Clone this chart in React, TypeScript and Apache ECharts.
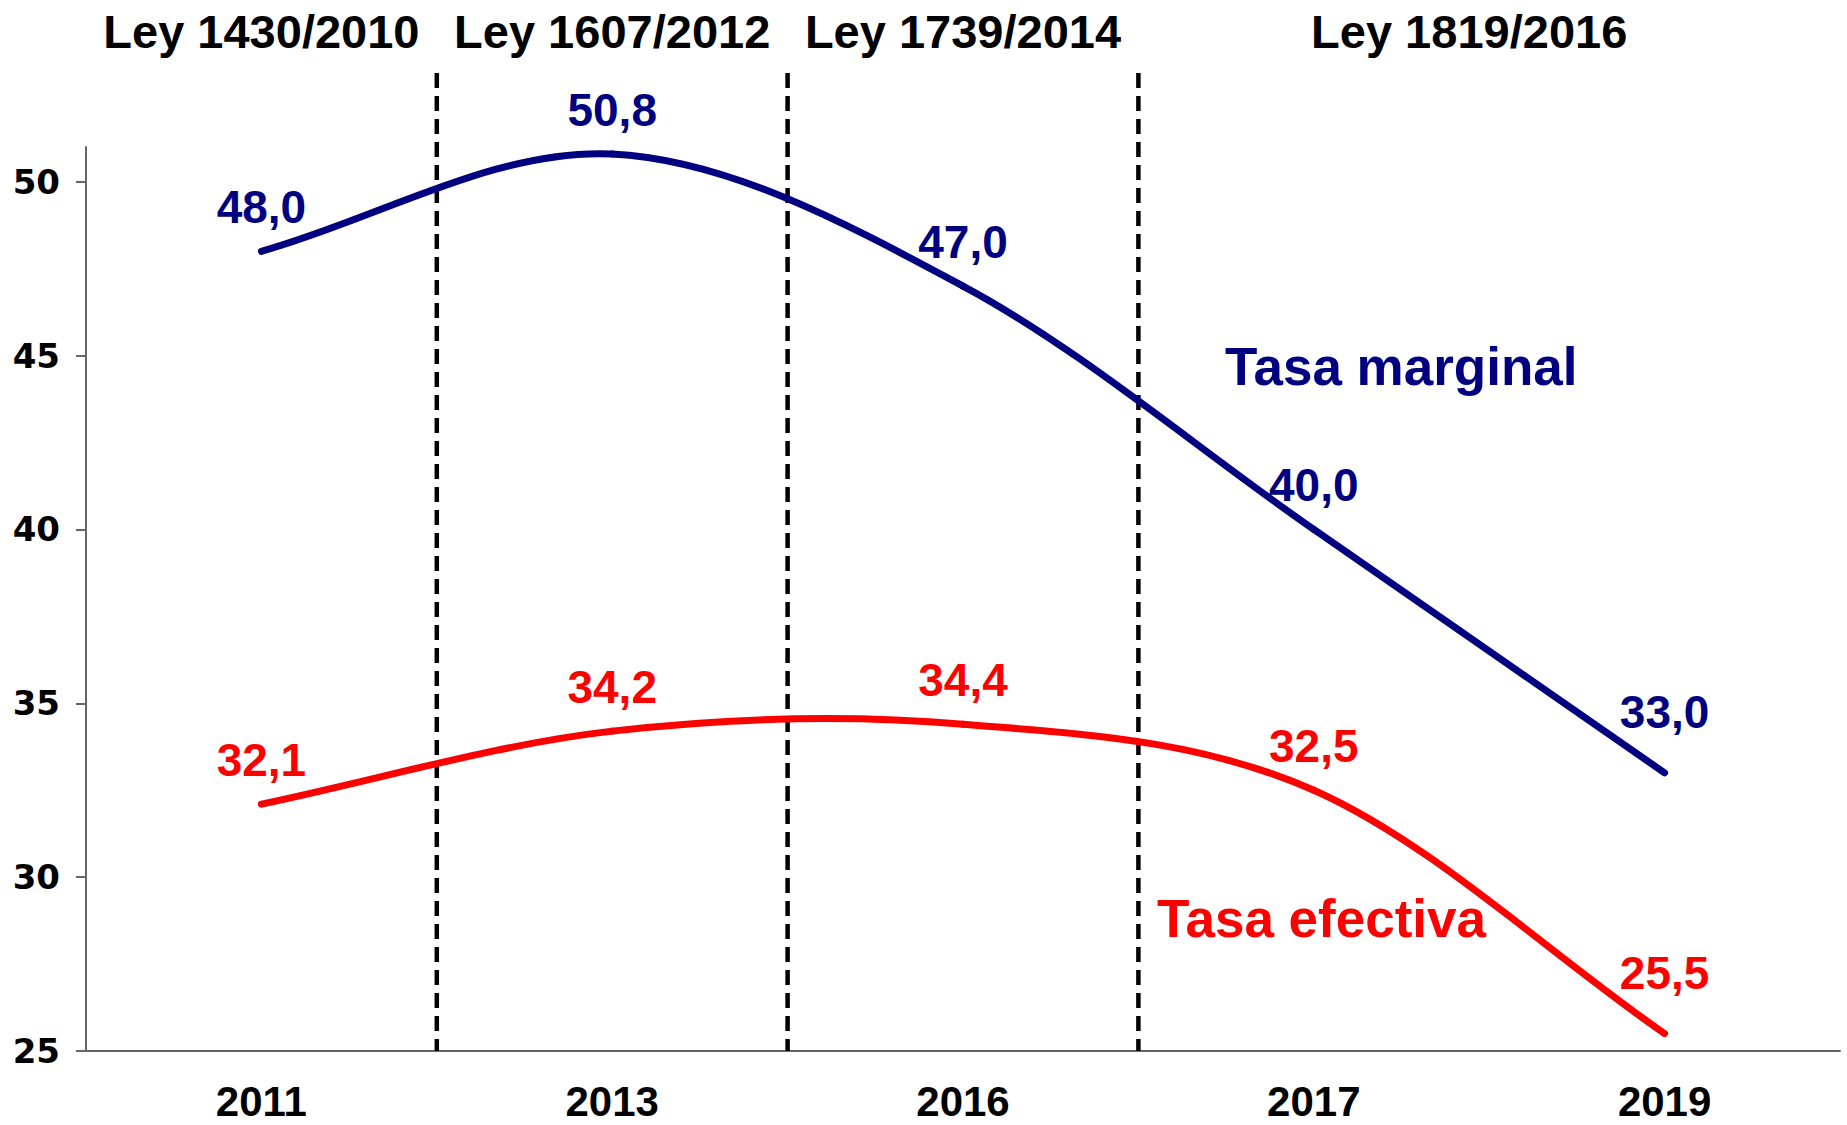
import React, { useEffect, useRef } from "react";
import * as echarts from "echarts";

const categories = ["2011", "2013", "2016", "2017", "2019"];
const tasaMarginal = [48.0, 50.8, 47.0, 40.0, 33.0];
const tasaEfectiva = [32.1, 34.2, 34.4, 32.5, 25.5];
const yTicks = [25, 30, 35, 40, 45, 50];
const leyNames = ["Ley 1430/2010", "Ley 1607/2012", "Ley 1739/2014", "Ley 1819/2016"];
const leySpans = [
  [0, 0],
  [1, 1],
  [2, 2],
  [3, 4],
];

const FONT = "'Liberation Sans', Arial, sans-serif";
const BLUE = "#000080";
const RED = "#ff0000";

const fmt = (v: number) => v.toFixed(1).replace(".", ",");

// segment data for a Catmull-Rom style smooth curve: [i, prev, cur, next, next2]
const segments = (arr: number[]) =>
  arr.slice(0, arr.length - 1).map((v, i) => {
    const prev = i > 0 ? arr[i - 1] : 2 * arr[i] - arr[i + 1];
    const nxt = arr[i + 1];
    const nxt2 = i + 2 < arr.length ? arr[i + 2] : 2 * arr[i + 1] - arr[i];
    return [i, prev, v, nxt, nxt2];
  });

const curveSeries = (arr: number[], color: string) => ({
  type: "custom",
  clip: false,
  silent: true,
  z: 5,
  data: segments(arr),
  renderItem: (params: any, api: any) => {
    const i = api.value(0);
    const p0 = api.coord([i - 1, api.value(1)]);
    const p1 = api.coord([i, api.value(2)]);
    const p2 = api.coord([i + 1, api.value(3)]);
    const p3 = api.coord([i + 2, api.value(4)]);
    return {
      type: "bezierCurve",
      shape: {
        x1: p1[0],
        y1: p1[1],
        x2: p2[0],
        y2: p2[1],
        cpx1: p1[0] + (p2[0] - p0[0]) / 6,
        cpy1: p1[1] + (p2[1] - p0[1]) / 6,
        cpx2: p2[0] - (p3[0] - p1[0]) / 6,
        cpy2: p2[1] - (p3[1] - p1[1]) / 6,
      },
      style: { stroke: color, lineWidth: 7, lineCap: "round", fill: null },
    };
  },
});

export default function App() {
  const ref = useRef<HTMLDivElement>(null);
  useEffect(() => {
    document.body.style.margin = "0";
    const chart = echarts.init(ref.current!, null, { renderer: "svg" });
    const labelled = (arr: number[]) =>
      arr.map((v, i) => ({
        value: v,
        label: { distance: i === arr.length - 1 ? 38 : 21 },
      }));
    const labelSeries = (name: string, arr: number[], color: string) => ({
      type: "line",
      name,
      data: labelled(arr),
      symbol: "circle",
      symbolSize: 0,
      lineStyle: { opacity: 0, width: 0 },
      itemStyle: { color },
      label: {
        show: true,
        position: "top",
        formatter: (p: any) => fmt(p.value),
        color,
        fontFamily: FONT,
        fontWeight: "bold",
        fontSize: 46,
      },
      z: 6,
    });
    const option: any = {
      animation: false,
      backgroundColor: "#ffffff",
      grid: { left: 86, right: 7, top: 147, bottom: 74, containLabel: false },
      xAxis: {
        type: "category",
        data: categories,
        boundaryGap: true,
        axisLine: { lineStyle: { color: "#666", width: 2 } },
        axisTick: { length: 13, lineStyle: { color: "#666", width: 2 } },
        axisLabel: {
          margin: 29,
          color: "#000",
          fontFamily: FONT,
          fontWeight: "bold",
          fontSize: 42,
          lineHeight: 42,
        },
        splitLine: { show: false },
      },
      yAxis: {
        type: "value",
        min: 25,
        max: 51,
        interval: 5,
        axisLine: { show: true, lineStyle: { color: "#666", width: 2 } },
        axisTick: {
          show: true,
          length: 10,
          customValues: yTicks,
          lineStyle: { color: "#666", width: 2 },
        },
        axisLabel: {
          margin: 26,
          customValues: yTicks,
          color: "#000",
          fontFamily: "'DejaVu Sans', sans-serif",
          fontWeight: "bold",
          fontSize: 34,
        },
        splitLine: { show: false },
      },
      series: [
        labelSeries("Tasa marginal", tasaMarginal, BLUE),
        labelSeries("Tasa efectiva", tasaEfectiva, RED),
        curveSeries(tasaMarginal, BLUE),
        curveSeries(tasaEfectiva, RED),
        {
          type: "custom",
          clip: false,
          silent: true,
          z: 3,
          data: leySpans.slice(0, leySpans.length - 1).map((s) => [s[1]]),
          renderItem: (params: any, api: any) => {
            const i = api.value(0);
            const p = api.coord([i, 25]);
            const bw = api.size([1, 0])[0];
            const x = p[0] + bw / 2;
            const top = api.coord([i, 51])[1] - 74;
            return {
              type: "line",
              shape: { x1: x, y1: top, x2: x, y2: p[1] },
              style: { stroke: "#000", lineWidth: 4.5, lineDash: [15, 8] },
            };
          },
        },
        {
          type: "custom",
          clip: false,
          silent: true,
          z: 4,
          data: leySpans.map((s, k) => [s[0], s[1], k]),
          renderItem: (params: any, api: any) => {
            const a = api.coord([api.value(0), 51]);
            const b = api.coord([api.value(1), 51]);
            const k = api.value(2);
            const shift = k === leySpans.length - 1 ? -20 : 0;
            return {
              type: "text",
              style: {
                x: (a[0] + b[0]) / 2 + shift,
                y: a[1] - 116,
                text: leyNames[k],
                fill: "#000",
                font: `bold 47px ${FONT}`,
                align: "center",
                verticalAlign: "middle",
              },
            };
          },
        },
      ],
      graphic: [
        {
          type: "text",
          left: 1403 - 178,
          top: 369 - 29,
          style: {
            text: "Tasa marginal",
            fill: BLUE,
            font: `bold 53px ${FONT}`,
          },
        },
        {
          type: "text",
          left: 1323 - 166,
          top: 921 - 29,
          style: {
            text: "Tasa efectiva",
            fill: RED,
            font: `bold 53px ${FONT}`,
          },
        },
      ],
    };
    chart.setOption(option);
    return () => chart.dispose();
  }, []);
  return (
    <div
      ref={ref}
      style={{ position: "absolute", left: 0, top: 0, width: 1847, height: 1125 }}
    />
  );
}
